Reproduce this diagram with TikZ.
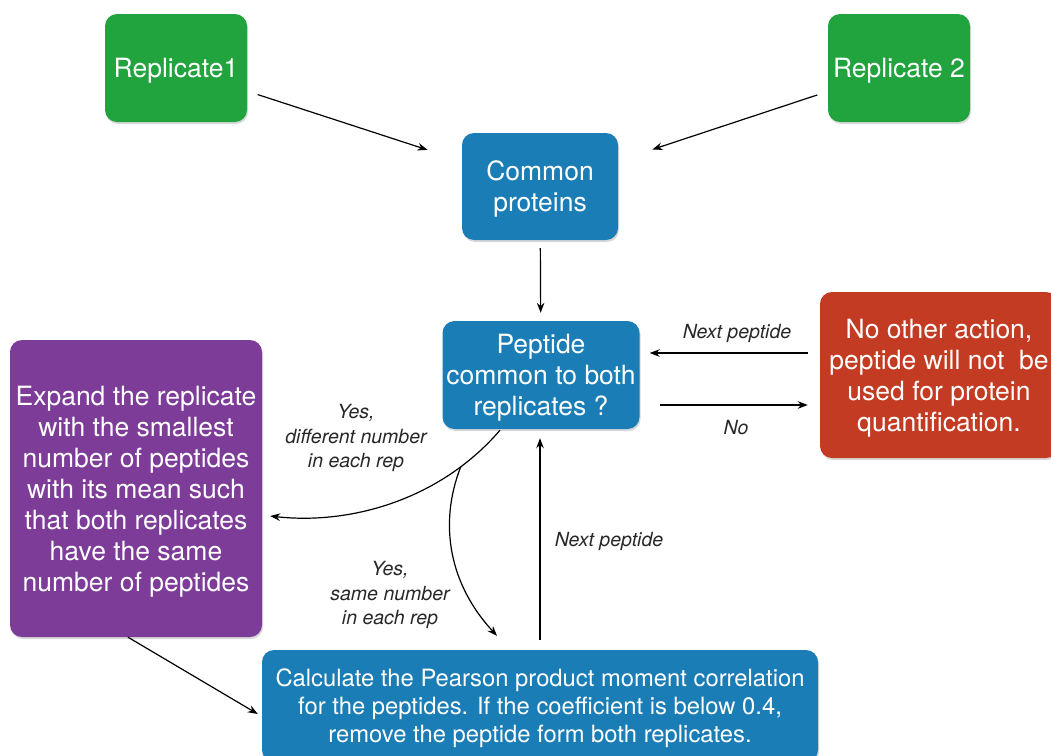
\documentclass[tikz,border=0pt]{standalone}
\usepackage{fontspec}
\setmainfont{TeX Gyre Heros}
\usetikzlibrary{arrows.meta,calc,shadows}
\definecolor{cgreen}{RGB}{33,163,62}
\definecolor{cblue}{RGB}{26,125,181}
\definecolor{cred}{RGB}{194,59,34}
\definecolor{cpurple}{RGB}{125,60,152}
\definecolor{clabel}{RGB}{40,40,40}
\begin{document}
\begin{tikzpicture}[x=1pt,y=-1pt,
  box/.style={rounded corners=12pt, inner sep=0pt, align=center, text=white,
    font=\fontsize{26.5}{31}\selectfont, text depth=0pt,
    drop shadow={shadow xshift=1pt, shadow yshift=-2pt, opacity=0.3}},
  arr/.style={-{Stealth[length=10pt,width=7.5pt]}, line width=1.2pt, black},
  lbl/.style={font=\itshape\fontsize{19.5}{24.5}\selectfont, text=clabel, align=center, inner sep=0pt}]
\useasboundingbox (0,0) rectangle (1051,755);
\clip (0,0) rectangle (1051,755);
\node[box, fill=cgreen, minimum width=142pt, minimum height=108pt] (r1) at (176,68) {Replicate1};
\node[box, fill=cgreen, minimum width=142pt, minimum height=108pt] (r2) at (899,68) {Replicate 2};
\node[box, fill=cblue, minimum width=156pt, minimum height=107pt] (cp) at (540,186.5) {Common\\proteins};
\node[box, fill=cblue, minimum width=197pt, minimum height=108pt] (pep) at (541,375) {Peptide\\common to both\\replicates ?};
\node[box, fill=cred, minimum width=238pt, minimum height=166pt] (red) at (939,375) {No other action,\\peptide will not~ be\\used for protein\\quantification.};
\node[box, fill=cpurple, minimum width=252pt, minimum height=297pt] (pur) at (136,488.5) {Expand the replicate\\with the smallest\\number of peptides\\with its mean such\\that both replicates\\have the same\\number of peptides};
\node[box, fill=cblue, minimum width=556pt, minimum height=112pt, font=\fontsize{23.8}{28}\selectfont] (bot) at (540,706) {Calculate the Pearson product moment correlation\\for the peptides. If the coefficient is below 0.4,\\remove the peptide form both replicates.};

\draw[arr, shorten <=11pt, shorten >=36pt] (r1) -- (cp);
\draw[arr, shorten <=11pt, shorten >=36pt] (r2) -- (cp);
\draw[arr, shorten <=8pt, shorten >=8pt] (cp) -- (pep);
\draw[arr] ($(red.west)+(-12,-22)$) -- ($(pep.east)+(10,-22)$);
\draw[arr] ($(pep.east)+(20,30)$) -- ($(red.west)+(-12,30)$);
\draw[arr] ($(bot.north)+(0,-10)$) -- ($(pep.south -| bot.north)+(0,9)$);
\draw[arr] ($(pep.south)+(-41,1)$) .. controls (440,500) and (350,525) .. ($(pur.east)+(8,27.5)$)
  coordinate[pos=0.2] (br);
\draw[arr] (br) .. controls (438,525) and (450,585) .. ($(bot.north)+(-43,-14)$);
\draw[arr] ($(pur.south)+(-8,0)$) -- ($(bot.west)+(-4,8)$);

\node[lbl] (lnp1) at (737,333) {Next peptide};
\node[lbl] (lno) at (736,428) {No};
\node[lbl] (lnp2) at (609,541) {Next peptide};
\node[lbl] (ldiff) at (356,438) {Yes,\\different number\\in each rep};
\node[lbl] (lsame) at (390,595) {Yes,\\same number\\in each rep};
\end{tikzpicture}
\end{document}
